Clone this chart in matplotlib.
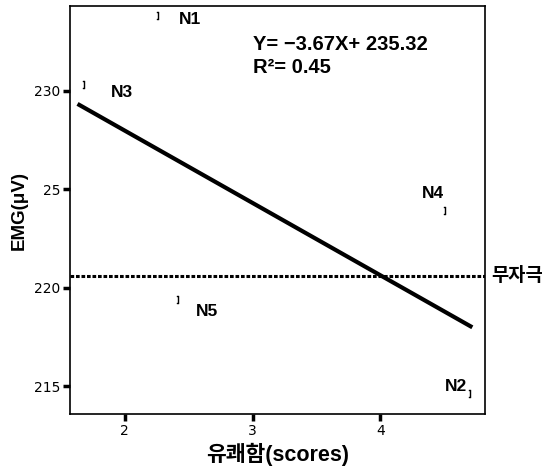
import numpy as np
import matplotlib
matplotlib.use("Agg")
import matplotlib.pyplot as plt

# data
names = ["N1", "N2", "N3", "N4", "N5"]
pleasure = [2.26, 4.70, 1.68, 4.51, 2.42]
emg = [233.8, 214.6, 230.3, 223.9, 219.4]
label_dx = [0.25, -0.11, 0.30, -0.10, 0.22]
label_dy = [-0.2, 0.4, -0.4, 0.9, -0.6]
slope, intercept, r2 = -3.67, 235.32, 0.45
fit_x = [1.63, 4.72]
baseline = 220.6
yticks = [215, 220, 225, 230]
ytick_labels = ["215", "220", "25", "230"]
xticks = [2, 3, 4]

FONT = ["Liberation Sans", "Noto Sans CJK KR", "DejaVu Sans"]

fig = plt.figure(figsize=(5.5, 4.72), dpi=100)
ax = fig.add_axes([0.127, 0.123, 0.755, 0.864])

ax.scatter(pleasure, emg, marker="$]$", s=30, color="black", linewidths=0.3)
for n, x, y, dx, dy in zip(names, pleasure, emg, label_dx, label_dy):
    ax.text(x + dx, y + dy, n, family=FONT, fontsize=12.5, fontweight="bold",
            ha="center", va="center")

fx = np.array(fit_x)
ax.plot(fx, slope * fx + intercept, color="black", lw=3, solid_capstyle="butt")

ax.axhline(baseline, color="black", lw=2.2, ls=(0, (1.2, 0.6)))
ax.text(1.015, baseline, "무자극", transform=ax.get_yaxis_transform(),
        family=FONT, fontsize=13.5, fontweight="bold", va="center", ha="left")

ax.text(3.0, 232.05, f"Y= \u2212{abs(slope):.2f}X+ {intercept:.2f}",
        family=FONT, fontsize=14.5, fontweight="bold")
ax.text(3.0, 230.9, f"R\u00b2= {r2:.2f}", family=FONT, fontsize=14.5, fontweight="bold")

ax.set_xlim(1.57, 4.82)
ax.set_ylim(213.6, 234.3)
ax.set_xticks(xticks)
ax.set_yticks(yticks)
ax.set_yticklabels(ytick_labels)
ax.tick_params(direction="out", length=5, width=2.5, labelsize=10, pad=2)
for s in ax.spines.values():
    s.set_linewidth(1.2)

ax.set_xlabel("유쾌함(scores)", family=FONT, fontsize=15.5, fontweight="bold", labelpad=4)
ax.set_ylabel("EMG(μV)", family=FONT, fontsize=13.5, fontweight="bold", labelpad=4)

fig.savefig("out.png", dpi=100)
